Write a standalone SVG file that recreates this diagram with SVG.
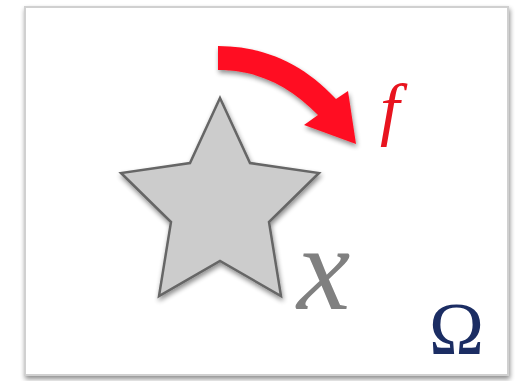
<svg xmlns="http://www.w3.org/2000/svg" width="516" height="381" viewBox="0 0 516 381">
<defs>
<filter id="sh" x="-10%" y="-10%" width="120%" height="120%">
<feGaussianBlur in="SourceAlpha" stdDeviation="2.5"/>
<feOffset dx="1" dy="3" result="b"/>
<feComponentTransfer><feFuncA type="linear" slope="0.45"/></feComponentTransfer>
<feMerge><feMergeNode/><feMergeNode in="SourceGraphic"/></feMerge>
</filter>
<style>
.lbl{font-family:"Liberation Serif","DejaVu Serif",serif;}
</style>
</defs>
<rect width="516" height="381" fill="#ffffff"/>
<g id="frame">
<rect x="25" y="7" width="483" height="368" fill="#ffffff" stroke="#d0d0d0" stroke-width="2" filter="url(#sh)"/>
</g>
<g id="star">
<polygon points="220,98 250,163 319,173 269,222 281,296 220,261 159,296 171,222 121,173 190,163" fill="#cccccc" stroke="#666666" stroke-width="2.5" stroke-linejoin="miter" filter="url(#sh)"/>
<text class="lbl" x="297" y="309" font-size="120" font-style="italic" fill="#808080">x</text>
</g>
<g id="connectors">
<path d="M218,46 C262,46 302,62 336,99 L348,91 L356,144 L304,125 L318,115 C290,86 258,70 218,70 Z" fill="#ff1020" filter="url(#sh)"/>
</g>
<g id="labels">
<text class="lbl" x="380" y="132" font-size="70" font-style="italic" fill="#e8141f">f</text>
<text class="lbl" x="429" y="354" font-size="74" fill="#1b2d63">Ω</text>
</g>
</svg>
